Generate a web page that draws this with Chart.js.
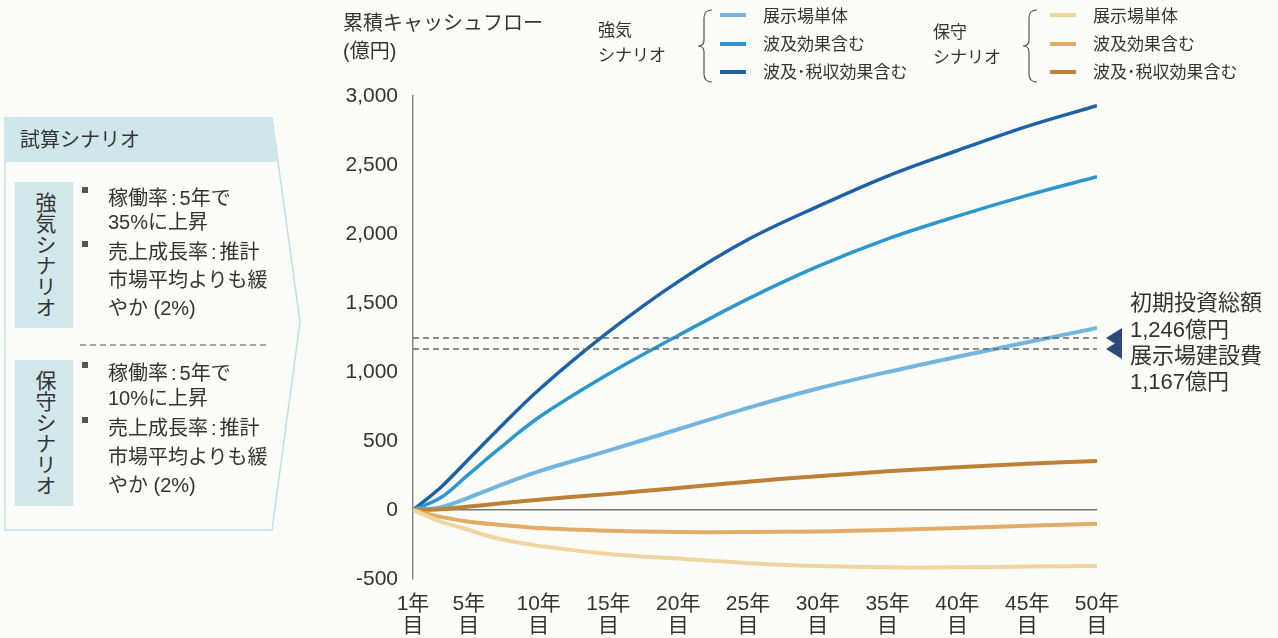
<!DOCTYPE html>
<html lang="ja">
<head>
<meta charset="utf-8">
<script src="https://cdn.jsdelivr.net/npm/chart.js@4.4.1/dist/chart.umd.min.js"></script>
<style>
  body { margin: 0; background: #fcfcf9; font-family: "Liberation Sans", "Noto Sans CJK JP", sans-serif; color: #333; }
  #wrap { position: relative; width: 1278px; height: 638px; overflow: hidden; }
  #chart { position: absolute; left: 0; top: 0; }
  #deco { position: absolute; left: 0; top: 0; }
  .t { position: absolute; white-space: nowrap; line-height: 1; }
  .vbox { position: absolute; left: 15px; width: 58px; height: 146px; background: #d2e8eb;
          writing-mode: vertical-rl; text-orientation: upright; font-size: 21px; line-height: 58px;
          text-align: center; color: #333; }
  .lg { font-size: 17px; }
  .note { font-size: 22px; }
  .pan { font-size: 20px; }
  .c { margin: 0 3px; }
</style>
</head>
<body>
<div id="wrap">
  <canvas id="chart" width="1278" height="638"></canvas>
  <svg id="deco" width="1278" height="638">
    <!-- left panel -->
    <polygon points="5,118 272,118 300,322 272,530 5,530" fill="#fcfcf9" stroke="#bfe0e4" stroke-width="1.5"/>
    <polygon points="5,118 272,118 278,162 5,162" fill="#cfe7ea"/>
    <line x1="80" y1="345" x2="270" y2="345" stroke="#888" stroke-width="1.3" stroke-dasharray="6,4"/>
    <rect x="82" y="187" width="6" height="6" fill="#555"/>
    <rect x="82" y="241" width="6" height="6" fill="#555"/>
    <rect x="82" y="362" width="6" height="6" fill="#555"/>
    <rect x="82" y="417" width="6" height="6" fill="#555"/>
    <!-- legend brackets -->
    <path d="M712 10 Q704 10 704 18 L704 40 Q704 46 698 46 Q704 46 704 52 L704 74 Q704 82 712 82" fill="none" stroke="#555" stroke-width="1.2"/>
    <path d="M1037 10 Q1029 10 1029 18 L1029 40 Q1029 46 1023 46 Q1029 46 1029 52 L1029 74 Q1029 82 1037 82" fill="none" stroke="#555" stroke-width="1.2"/>
    <rect x="720" y="13" width="26" height="4" fill="#72b6df"/>
    <rect x="720" y="42" width="26" height="4" fill="#2c97cf"/>
    <rect x="720" y="70" width="26" height="4" fill="#1d62a8"/>
    <rect x="1050" y="13" width="26" height="4" fill="#f0d5a0"/>
    <rect x="1050" y="42" width="26" height="4" fill="#e3ad68"/>
    <rect x="1050" y="70" width="26" height="4" fill="#bd8035"/>
  </svg>

  <div class="t" style="left:343px;top:13px;font-size:20px;">累積キャッシュフロー</div>
  <div class="t" style="left:343px;top:41px;font-size:20px;">(億円)</div>

  <div class="t lg" style="left:598px;top:22px;">強気</div>
  <div class="t lg" style="left:598px;top:47px;">シナリオ</div>
  <div class="t lg" style="left:763px;top:8px;">展示場単体</div>
  <div class="t lg" style="left:763px;top:36px;">波及効果含む</div>
  <div class="t lg" style="left:763px;top:64px;">波及･税収効果含む</div>
  <div class="t lg" style="left:933px;top:24px;">保守</div>
  <div class="t lg" style="left:933px;top:49px;">シナリオ</div>
  <div class="t lg" style="left:1093px;top:8px;">展示場単体</div>
  <div class="t lg" style="left:1093px;top:36px;">波及効果含む</div>
  <div class="t lg" style="left:1093px;top:64px;">波及･税収効果含む</div>

  <div class="t note" style="left:1130px;top:292px;">初期投資総額</div>
  <div class="t note" style="left:1130px;top:319px;">1,246億円</div>
  <div class="t note" style="left:1130px;top:345px;">展示場建設費</div>
  <div class="t note" style="left:1130px;top:371px;">1,167億円</div>

  <div class="t pan" style="left:20px;top:130px;">試算シナリオ</div>
  <div class="vbox" style="top:182px;">強気シナリオ</div>
  <div class="vbox" style="top:360px;">保守シナリオ</div>
  <div class="t pan" style="left:108px;top:188px;">稼働率<span class="c">:</span>5年で</div>
  <div class="t pan" style="left:108px;top:212px;">35%に上昇</div>
  <div class="t pan" style="left:108px;top:242px;">売上成長率<span class="c">:</span>推計</div>
  <div class="t pan" style="left:108px;top:270px;">市場平均よりも緩</div>
  <div class="t pan" style="left:108px;top:298px;">やか (2%)</div>
  <div class="t pan" style="left:108px;top:363px;">稼働率<span class="c">:</span>5年で</div>
  <div class="t pan" style="left:108px;top:388px;">10%に上昇</div>
  <div class="t pan" style="left:108px;top:418px;">売上成長率<span class="c">:</span>推計</div>
  <div class="t pan" style="left:108px;top:447px;">市場平均よりも緩</div>
  <div class="t pan" style="left:108px;top:475px;">やか (2%)</div>
</div>

<script>
// 年次 (1年目〜50年目)
const years = [1, 3, 5, 7, 10, 15, 20, 25, 30, 35, 40, 45, 50]
const xTicks = [1, 5, 10, 15, 20, 25, 30, 35, 40, 45, 50]

// 強気シナリオ (億円)
const strongVenue = [0, 20, 90, 170, 280, 430, 585, 740, 880, 1000, 1110, 1215, 1320]
const strongRipple = [0, 90, 260, 430, 670, 985, 1265, 1530, 1765, 1965, 2130, 2280, 2415]
const strongTax = [0, 165, 370, 575, 870, 1290, 1655, 1960, 2200, 2420, 2605, 2780, 2930]

// 保守シナリオ (億円)
const consVenue = [0, -85, -145, -205, -260, -318, -352, -385, -405, -415, -415, -410, -405]
const consRipple = [0, -50, -85, -105, -130, -150, -160, -160, -155, -145, -130, -115, -100]
const consTax = [0, 5, 25, 45, 75, 115, 160, 205, 245, 280, 310, 335, 355]

// 参考ライン
const investTotal = 1246
const buildCost = 1167

const toPoints = (vals) => vals.map((v, i) => ({ x: years[i], y: v }))
const flat = (v) => [{ x: 1, y: v }, { x: 50, y: v }]

const line = (data, color, width) => ({
  data: toPoints(data),
  borderColor: color,
  borderWidth: width,
  pointRadius: 0,
  tension: 0.35,
  fill: false,
})

const dashed = (v) => ({
  data: flat(v),
  borderColor: "#666",
  borderWidth: 1.5,
  borderDash: [6, 4],
  pointRadius: 0,
  fill: false,
})

// 右側の三角マーカー
const markers = {
  id: "markers",
  afterDraw(chart) {
    const ctx = chart.ctx
    const y = chart.scales.y
    ctx.save()
    ctx.fillStyle = "#2b4a7a"
    ;[investTotal, buildCost].forEach((v) => {
      const py = y.getPixelForValue(v)
      ctx.beginPath()
      ctx.moveTo(1106, py)
      ctx.lineTo(1122, py - 10)
      ctx.lineTo(1122, py + 10)
      ctx.closePath()
      ctx.fill()
    })
    ctx.restore()
  },
}

new Chart(document.getElementById("chart"), {
  type: "line",
  data: {
    datasets: [
      dashed(investTotal),
      dashed(buildCost),
      line(consVenue, "#f0d5a0", 4),
      line(consRipple, "#e3ad68", 4),
      line(consTax, "#bd8035", 4),
      line(strongVenue, "#72b6df", 4),
      line(strongRipple, "#2c97cf", 3.5),
      line(strongTax, "#1d62a8", 3.5),
    ],
  },
  options: {
    responsive: false,
    animation: false,
    layout: { padding: { left: 338, right: 181, top: 96, bottom: 0 } },
    plugins: { legend: { display: false }, tooltip: { enabled: false } },
    scales: {
      x: {
        type: "linear",
        min: 1,
        max: 50,
        afterBuildTicks: (scale) => {
          scale.ticks = xTicks.map((v) => ({ value: v }))
        },
        afterFit: (scale) => {
          scale.height = 59
        },
        grid: { display: false },
        border: { display: false },
        ticks: {
          autoSkip: false,
          maxRotation: 0,
          padding: 6,
          color: "#333",
          font: { size: 21, family: "'Liberation Sans', 'Noto Sans CJK JP'", lineHeight: 1.05 },
          callback: (v) => [v + "年", "目"],
        },
      },
      y: {
        min: -500,
        max: 3000,
        afterFit: (scale) => {
          scale.width = 75
        },
        grid: {
          drawTicks: false,
          lineWidth: 1.5,
          color: (c) => (c.tick && c.tick.value === 0 ? "#777" : "rgba(0,0,0,0)"),
        },
        border: { display: true, color: "#888", width: 1.5 },
        ticks: {
          stepSize: 500,
          padding: 15,
          color: "#333",
          font: { size: 21, family: "'Liberation Sans', 'Noto Sans CJK JP'" },
          callback: (v) => v.toLocaleString("en-US"),
        },
      },
    },
  },
  plugins: [markers],
})
</script>
</body>
</html>
